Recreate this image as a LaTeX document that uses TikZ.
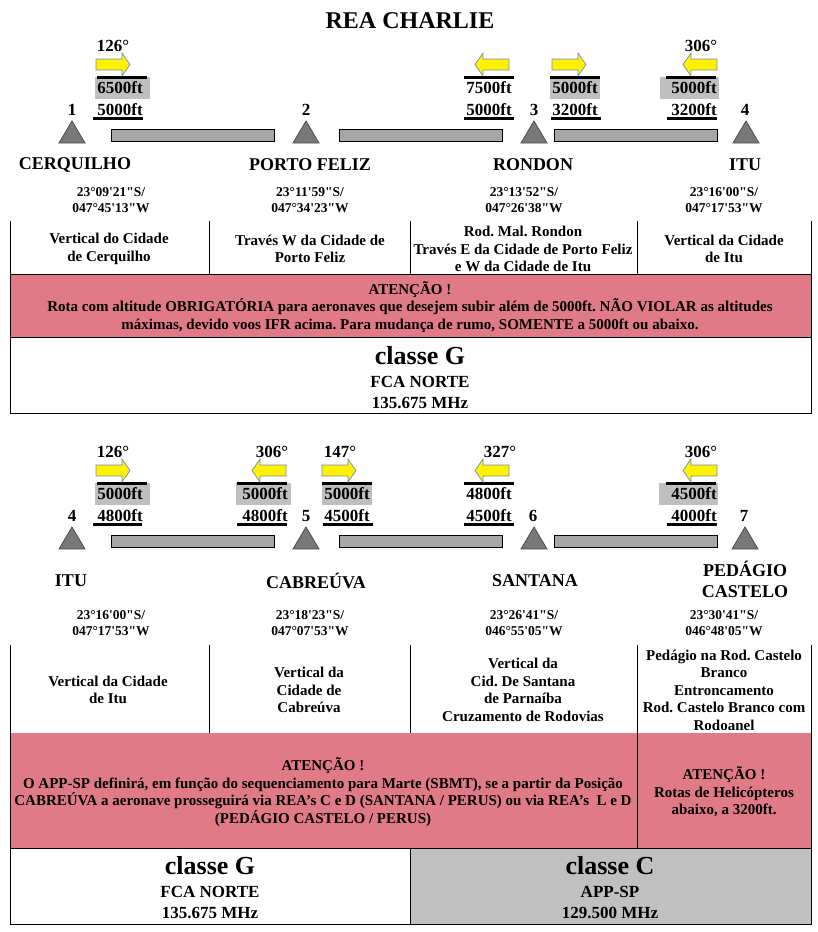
\documentclass[tikz,border=0pt]{standalone}
\usepackage{fontspec}
\setmainfont{Liberation Serif}[Ligatures=TeXOff]
\definecolor{pinkc}{RGB}{224,122,134}
\definecolor{arrbd}{RGB}{108,142,191}
\definecolor{bargray}{RGB}{166,166,166}
\definecolor{trigray}{RGB}{120,120,120}
\definecolor{labgray}{RGB}{191,191,191}
\definecolor{cgray}{RGB}{192,192,192}
\begin{document}
\frenchspacing
\begin{tikzpicture}[x=1pt,y=-1pt,
  every node/.style={inner sep=0pt, outer sep=0pt},
  alt/.style={font=\bfseries\fontsize{17}{20}\selectfont},
  stname/.style={font=\bfseries\fontsize{18}{21}\selectfont, align=center},
  coordtxt/.style={font=\bfseries\fontsize{13.5}{15.5}\selectfont, align=center},
  cell/.style={font=\bfseries\fontsize{15}{17.5}\selectfont, align=center},
  big/.style={font=\bfseries\fontsize{26}{30}\selectfont},
  mid/.style={font=\bfseries\fontsize{17}{20}\selectfont},
  bar/.style={fill=bargray, draw=black, line width=1pt},
  tri/.style={fill=trigray, draw=black!70, line width=0.8pt},
  thickrule/.style={line width=3pt},
  labbox/.style={fill=labgray},
  yarr/.style={fill=yellow, draw=arrbd, line width=0.7pt},
  rule/.style={line width=1pt},
  rarr/.pic={\path[yarr] (0,6)--(26,6)--(26,0)--(34,11.5)--(26,23)--(26,17)--(0,17)--cycle;},
  larr/.pic={\path[yarr] (34,6)--(8,6)--(8,0)--(0,11.5)--(8,23)--(8,17)--(34,17)--cycle;},
  station/.pic={\path[tri] (-13,0)--(13,0)--(0,-22)--cycle;}
]
\useasboundingbox[fill=white] (0,0) rectangle (818,932);

\node[font=\bfseries\fontsize{24}{28}\selectfont] (title) at (410,21) {REA CHARLIE};

% ===================== TOP SECTION =====================
% label backgrounds
\path[labbox] (95,77) rectangle (150,99);
\path[labbox] (550,77) rectangle (600,99);
\path[labbox] (660,77) rectangle (719,99);
% top rules
\draw[thickrule] (97,77)--(147,77);
\draw[thickrule] (464,77)--(514,77);
\draw[thickrule] (550,77)--(600,77);
\draw[thickrule] (666,77)--(716,77);
% under rules
\draw[thickrule] (93,118)--(143,118);
\draw[thickrule] (464,118)--(514,118);
\draw[thickrule] (551,118)--(601,118);
\draw[thickrule] (667,118)--(717,118);
% arrows
\pic at (96,53) {rarr};
\pic at (475,53) {larr};
\pic at (552,53) {rarr};
\pic at (683,53) {larr};
% headings
\node[alt] (h1) at (113,46) {126°};
\node[alt] (h4) at (701,46) {306°};
% altitudes
\node[alt] (a1u) at (120,88) {6500ft};
\node[alt] (a1l) at (120,110) {5000ft};
\node[alt] (a2u) at (489,88) {7500ft};
\node[alt] (a2l) at (489,110) {5000ft};
\node[alt] (a3u) at (575,88) {5000ft};
\node[alt] (a3l) at (575,110) {3200ft};
\node[alt] (a4u) at (694,88) {5000ft};
\node[alt] (a4l) at (694,110) {3200ft};
% numbers
\node[alt] (n1) at (72,110) {1};
\node[alt] (n2) at (306,110) {2};
\node[alt] (n3) at (534,110) {3};
\node[alt] (n4) at (745,110) {4};
% stations
\pic at (72,143) {station};
\pic at (306,143) {station};
\pic at (534,143) {station};
\pic at (746,143) {station};
% bars
\path[bar] (111,129) rectangle (274,141);
\path[bar] (339,129) rectangle (502,141);
\path[bar] (554,129) rectangle (717,141);
% names
\node[stname] (s1) at (75,165) {CERQUILHO};
\node[stname] (s2) at (310,165) {PORTO FELIZ};
\node[stname] (s3) at (533,165) {RONDON};
\node[stname] (s4) at (745,165) {ITU};
% coordinates
\node[coordtxt] (c1) at (111,200) {23°09'21"S/\\047°45'13"W};
\node[coordtxt] (c2) at (310,200) {23°11'59"S/\\047°34'23"W};
\node[coordtxt] (c3) at (524,200) {23°13'52"S/\\047°26'38"W};
\node[coordtxt] (c4) at (724,200) {23°16'00"S/\\047°17'53"W};
% table
\path[fill=pinkc] (10,274) rectangle (811,337);
\draw[rule] (10,274)--(811,274);
\draw[rule] (10,337) rectangle (811,413);
\draw[rule] (10,221)--(10,337);
\draw[rule] (811,221)--(811,337);
\draw[rule] (209,221)--(209,274);
\draw[rule] (410,221)--(410,274);
\draw[rule] (637,221)--(637,274);
\node[cell] (t1) at (109,249) {Vertical do Cidade\\de Cerquilho};
\node[cell] (t2) at (310,249) {Través W da Cidade de\\Porto Feliz};
\node[cell] (t3) at (523,249) {Rod. Mal. Rondon\\Través E da Cidade de Porto Feliz\\e W da Cidade de Itu};
\node[cell] (t4) at (724,249) {Vertical da Cidade\\de Itu};
\node[cell] (warn1) at (410,307) {ATENÇÃO !\\Rota com altitude OBRIGATÓRIA para aeronaves que desejem subir além de 5000ft. NÃO VIOLAR as altitudes\\máximas, devido voos IFR acima. Para mudança de rumo, SOMENTE a 5000ft ou abaixo.};
\node[big] (g1) at (420,356) {classe G};
\node[mid] (g1a) at (420,382) {FCA NORTE};
\node[mid] (g1b) at (420,403) {135.675 MHz};

% ===================== BOTTOM SECTION =====================
\path[labbox] (95,483) rectangle (150,505);
\path[labbox] (236,483) rectangle (291,505);
\path[labbox] (322,483) rectangle (372,505);
\path[labbox] (659,483) rectangle (718,505);
\draw[thickrule] (97,483)--(147,483);
\draw[thickrule] (237,483)--(287,483);
\draw[thickrule] (322,483)--(372,483);
\draw[thickrule] (464,483)--(514,483);
\draw[thickrule] (666,483)--(716,483);
\draw[thickrule] (93,524)--(142,524);
\draw[thickrule] (237,524)--(287,524);
\draw[thickrule] (323,524)--(373,524);
\draw[thickrule] (464,524)--(514,524);
\draw[thickrule] (667,524)--(717,524);
\pic at (96,459) {rarr};
\pic at (252,459) {larr};
\pic at (322,459) {rarr};
\pic at (475,459) {larr};
\pic at (683,459) {larr};
\node[alt] (hA) at (113,452) {126°};
\node[alt] (hB) at (272,452) {306°};
\node[alt] (hC) at (340,452) {147°};
\node[alt] (hD) at (500,452) {327°};
\node[alt] (hE) at (701,452) {306°};
\node[alt] (bAu) at (120,494) {5000ft};
\node[alt] (bAl) at (120,516) {4800ft};
\node[alt] (bBu) at (265,494) {5000ft};
\node[alt] (bBl) at (265,516) {4800ft};
\node[alt] (bCu) at (347,494) {5000ft};
\node[alt] (bCl) at (347,516) {4500ft};
\node[alt] (bDu) at (489,494) {4800ft};
\node[alt] (bDl) at (489,516) {4500ft};
\node[alt] (bEu) at (694,494) {4500ft};
\node[alt] (bEl) at (694,516) {4000ft};
\node[alt] (m4) at (72,516) {4};
\node[alt] (m5) at (306,516) {5};
\node[alt] (m6) at (533,516) {6};
\node[alt] (m7) at (744,516) {7};
\pic at (72,549) {station};
\pic at (306,549) {station};
\pic at (534,549) {station};
\pic at (745,549) {station};
\path[bar] (111,535) rectangle (274,547);
\path[bar] (339,535) rectangle (502,547);
\path[bar] (554,535) rectangle (717,547);
\node[stname] (r4) at (71,581) {ITU};
\node[stname] (r5) at (316,581) {CABREÚVA};
\node[stname] (r6) at (535,581) {SANTANA};
\node[stname] (r7) at (745,579) {PEDÁGIO\\CASTELO};
\node[coordtxt] (d4) at (111,623) {23°16'00"S/\\047°17'53"W};
\node[coordtxt] (d5) at (310,623) {23°18'23"S/\\047°07'53"W};
\node[coordtxt] (d6) at (524,623) {23°26'41"S/\\046°55'05"W};
\node[coordtxt] (d7) at (724,623) {23°30'41"S/\\046°48'05"W};
% table
\path[fill=pinkc] (10,733) rectangle (811,848);
\path[fill=cgray] (410,848) rectangle (811,924);
\draw[rule] (10,645)--(10,924)--(811,924)--(811,645);
\draw[rule] (10,848)--(811,848);
\draw[rule] (410,848)--(410,924);
\draw[rule] (209,645)--(209,733);
\draw[rule] (410,645)--(410,733);
\draw[rule] (637,645)--(637,848);
\node[cell] (u1) at (108,690) {Vertical da Cidade\\de Itu};
\node[cell] (u2) at (309,690) {Vertical da\\Cidade de\\Cabreúva};
\node[cell] (u3) at (523,690) {Vertical da\\Cid. De Santana\\de Parnaíba\\Cruzamento de Rodovias};
\node[cell] (u4) at (724,690) {Pedágio na Rod. Castelo\\Branco\\Entroncamento\\Rod. Castelo Branco com\\Rodoanel};
\node[cell] (warn2) at (323,792) {ATENÇÃO !\\O APP-SP definirá, em função do sequenciamento para Marte (SBMT), se a partir da Posição\\CABREÚVA a aeronave prosseguirá via REA’s C e D (SANTANA / PERUS) ou via REA’s\ \ L e D\\(PEDÁGIO CASTELO / PERUS)};
\node[cell] (warn3) at (724,792) {ATENÇÃO !\\Rotas de Helicópteros\\abaixo, a 3200ft.};
\node[big] (g2) at (210,866) {classe G};
\node[mid] (g2a) at (210,892) {FCA NORTE};
\node[mid] (g2b) at (210,913) {135.675 MHz};
\node[big] (cC) at (610,866) {classe C};
\node[mid] (cCa) at (610,892) {APP-SP};
\node[mid] (cCb) at (610,913) {129.500 MHz};
\end{tikzpicture}
\end{document}
